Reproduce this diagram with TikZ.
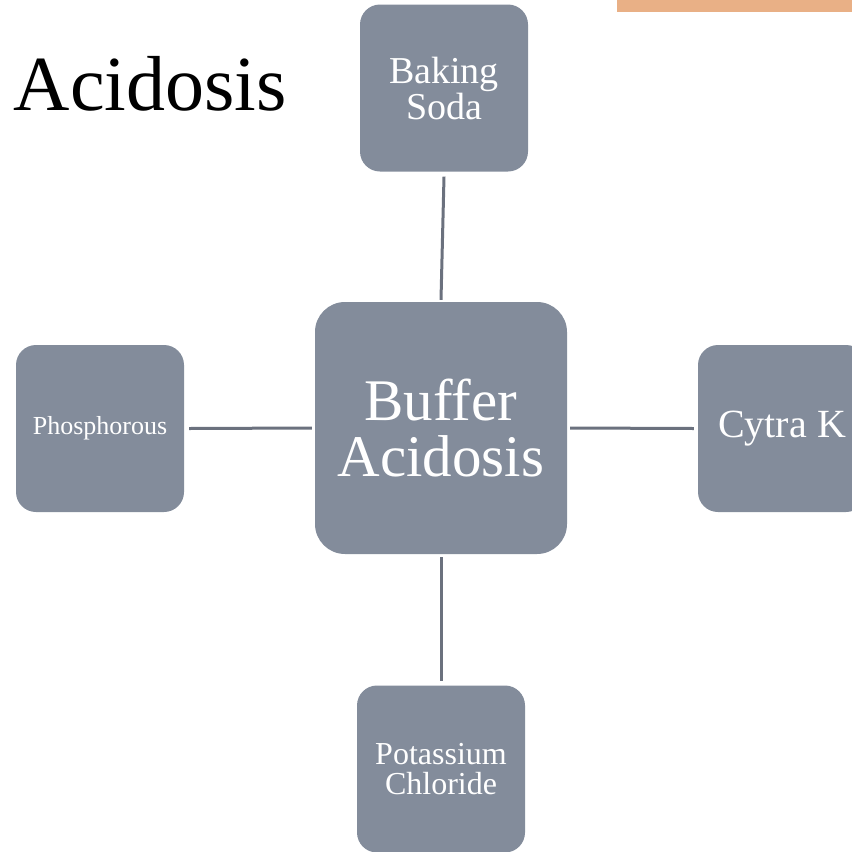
\documentclass[tikz,border=0pt]{standalone}
\usepackage{fontspec}
\setmainfont{Liberation Serif}
\definecolor{boxfill}{HTML}{838C9B}
\definecolor{linecol}{HTML}{6B717E}
\definecolor{orangebar}{HTML}{E9B086}
\tikzset{
  item/.style={fill=boxfill, rounded corners=20pt, minimum width=168pt, minimum height=167pt, text=white, align=center, inner sep=0pt},
  hub/.style={fill=boxfill, rounded corners=30pt, minimum width=252pt, minimum height=252pt, text=white, align=center, inner sep=0pt},
  link/.style={draw=linecol, line width=3pt}
}
\begin{document}
\begin{tikzpicture}[x=1pt,y=-1pt]
\useasboundingbox (0,0) rectangle (852,852);
\begin{scope}
\clip (0,0) rectangle (852,852);
\fill[orangebar] (617,-2) rectangle (860,12);
\node[anchor=base east, inner sep=0pt, font=\fontsize{78}{90}\selectfont] (title) at (287,110) {of Acidosis};
\node[hub, font=\fontsize{59}{56}\selectfont] (hub) at (441,428) {Buffer\\Acidosis};
\node[item, font=\fontsize{38}{36}\selectfont] (baking) at (444,88) {Baking\\Soda};
\node[item, font=\fontsize{26}{28}\selectfont] (phos) at (100,428.5) {Phosphorous};
\node[item, font=\fontsize{40}{40}\selectfont] (cytra) at (782,428.5) {Cytra K};
\node[item, font=\fontsize{32}{30}\selectfont] (potas) at (441,769) {Potassium\\Chloride};
\end{scope}
\draw[link] ([yshift=-5pt]baking.south) -- ([yshift=2pt]hub.north);
\draw[link] ([xshift=5pt]phos.east) -- ([xshift=-3pt]hub.west);
\draw[link] ([xshift=3pt]hub.east) -- ([xshift=-4pt]cytra.west);
\draw[link] ([yshift=-3pt]hub.south) -- ([yshift=4pt]potas.north);
\end{tikzpicture}
\end{document}
